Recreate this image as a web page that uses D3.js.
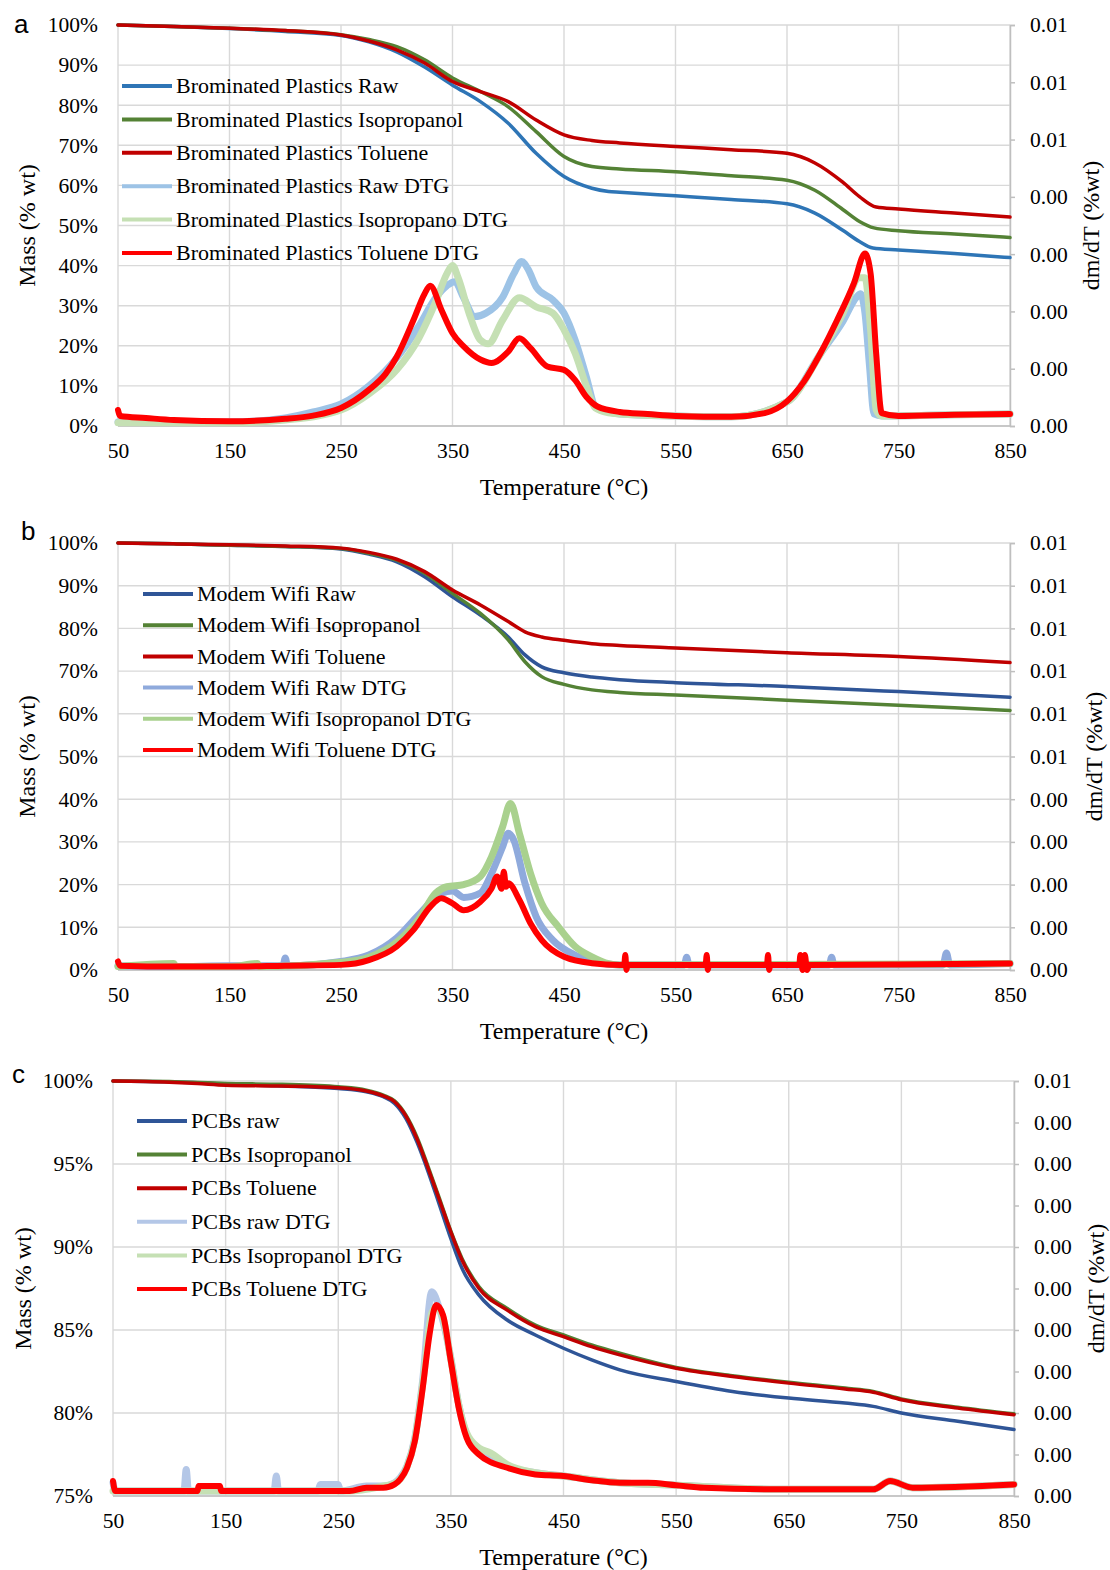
<!DOCTYPE html>
<html>
<head>
<meta charset="utf-8">
<script src="https://cdn.jsdelivr.net/npm/d3@7"></script>
<style>
  body { margin: 0; background: #fff; }
  svg { display: block; }
  text { font-family: "Liberation Serif", "Times New Roman", serif; fill: #000; }
</style>
</head>
<body>
<svg width="1110" height="1570"></svg>
<script>
// ---- data ----
// temperature ticks (°C)
const tempTicks = [50, 150, 250, 350, 450, 550, 650, 750, 850];

// DTG values are stored in units of 1e-4 (%wt/°C)
const DTG_UNIT = 1e-4;

// a) Brominated plastics : mass (%)
const aRaw = [[50,100],[100,99.6],[150,99.1],[200,98.4],[250,97.4],[275,95.8],[300,93.3],[325,89.5],[350,85],[375,80.9],[400,75.5],[425,68],[450,62.2],[475,59.3],[490,58.5],[500,58.3],[550,57.4],[600,56.5],[650,55.4],[675,53.1],[700,48.8],[715,46],[727,44.4],[750,43.9],[800,43],[850,42]];
const aIso = [[50,100],[100,99.6],[150,99.2],[200,98.6],[250,97.6],[275,96.4],[300,94.6],[325,91.3],[350,86.8],[375,83.4],[400,79.6],[425,73.4],[450,67.2],[475,64.7],[500,64.1],[550,63.4],[600,62.4],[650,61.3],[675,58.8],[700,54],[715,51],[728,49.4],[750,48.7],[800,47.9],[850,47]];
const aTol = [[50,100],[100,99.6],[150,99.2],[200,98.6],[250,97.5],[275,96],[300,93.8],[325,90.5],[350,85.9],[375,83.4],[400,80.9],[425,76.3],[450,72.6],[475,71.2],[500,70.6],[550,69.7],[600,68.9],[650,68],[675,65.6],[700,60.8],[715,57.2],[730,54.6],[750,54.1],[800,53.1],[850,52.1]];
// a) DTG
const aRawDTG = [[50,0.7],[100,0.7],[150,0.7],[200,1.4],[225,2.45],[250,3.85],[275,7],[300,11.9],[320,17.5],[335,22.4],[345,24.5],[352,25.2],[360,22.4],[370,19.1],[380,19.7],[395,22.5],[405,26.6],[412,28.7],[418,27.3],[425,24.3],[440,22],[450,19.7],[460,15],[470,8.6],[478,3.4],[490,2.45],[500,2.1],[550,1.75],[600,1.6],[650,4.2],[680,12.6],[700,18.2],[712,22.4],[716,23.1],[720,19.6],[724,10.5],[728,2.1],[735,1.75],[800,1.96],[850,2.1]];
const aIsoDTG = [[50,0.56],[150,0.56],[200,1.05],[250,2.8],[275,5.6],[300,9.8],[320,15.4],[335,21.7],[345,26.6],[350,28],[355,25.9],[365,19.6],[375,15],[382,14.35],[395,18.5],[410,22.4],[425,20.8],[440,19.7],[450,16.8],[460,12.7],[470,7],[478,3.15],[490,2.3],[500,2.1],[550,1.75],[600,1.6],[650,4.2],[680,12.6],[700,19.6],[715,25.9],[720,25.9],[725,16.8],[730,2.8],[735,1.75],[800,1.96],[850,2.1]];
const aTolDTG = [[50,2.8],[52,1.75],[75,1.4],[100,1.05],[150,0.84],[200,1.26],[225,1.82],[250,3.15],[275,6.3],[290,9.1],[300,12.1],[315,18.5],[325,23.1],[330,24.5],[340,20.3],[350,16.2],[360,13.9],[375,11.6],[385,11],[400,13],[410,15.3],[420,13.6],[435,10.4],[450,9.8],[460,8],[470,5.1],[480,3.4],[500,2.45],[525,2.1],[550,1.75],[600,1.6],[630,2.25],[650,4.3],[665,7.7],[680,12.7],[695,18.5],[710,24.9],[720,30.1],[725,26.6],[730,12.6],[735,2.25],[750,1.75],[800,1.96],[850,2.1]];

// b) Modem Wifi : mass (%)
const bRaw = [[50,100],[100,99.8],[150,99.5],[200,99.2],[250,98.6],[275,97.4],[300,95.6],[325,92.1],[350,87.4],[375,83.1],[400,78],[415,73.8],[430,71],[450,69.6],[475,68.6],[500,68],[550,67.3],[650,66.4],[750,65.2],[850,63.9]];
const bIso = [[50,100],[100,99.8],[150,99.5],[200,99.2],[250,98.7],[275,97.6],[300,96],[325,92.9],[350,88.2],[375,83.5],[400,77.3],[415,72.2],[430,68.7],[450,66.9],[475,65.6],[500,65],[550,64.4],[650,63.2],[750,62],[850,60.8]];
const bTol = [[50,100],[100,99.8],[150,99.6],[200,99.3],[250,98.8],[275,97.8],[300,96.2],[325,93.3],[350,89],[375,85.5],[400,81.6],[415,79.2],[430,78],[450,77.2],[475,76.4],[500,76],[550,75.4],[650,74.3],[750,73.4],[850,72]];
// b) DTG
const bRawDTG = [[50,1],[100,0.8],[150,1],[198,1],[200,2.8],[202,1],[250,2],[275,3.5],[300,7.5],[320,13],[340,18],[350,18.5],[360,17],[375,18],[385,22.6],[395,28.9],[400,32],[405,30.4],[415,20.3],[425,12.5],[440,7],[460,3.5],[480,1.8],[500,1.2],[558,1.2],[560,3],[562,1.2],[688,1.2],[690,3],[692,1.2],[790,1.2],[793,4],[796,1.2],[850,1.5]];
const bIsoDTG = [[50,0.8],[100,1.5],[102,0.8],[150,0.8],[175,1.5],[177,0.8],[250,1.8],[275,3],[300,6.5],[320,12],[335,18],[345,19.5],[360,20],[375,21.9],[385,26.5],[395,33.6],[402,39],[410,32],[420,22.6],[430,15.6],[445,10.1],[460,5.5],[475,3.1],[490,1.5],[500,1.2],[850,1.5]];
const bTolDTG = [[50,2],[52,1],[100,0.8],[150,0.8],[200,1],[250,1.2],[275,2.3],[300,5.5],[315,9.4],[330,14.8],[340,16.8],[350,15.6],[360,14],[375,16],[385,19.1],[390,21.9],[394,19],[396,23],[398,19.5],[400,20.3],[410,16.4],[420,10.9],[430,7],[450,3.1],[475,1.6],[500,1.2],[504,1.2],[505,3.5],[506,0],[507,1.2],[577,1.2],[578,3.5],[579,0],[580,1.2],[632,1.2],[633,3.5],[634,0],[635,1.2],[661,1.2],[662,3.5],[664,0],[666,3.5],[668,0],[670,1.2],[750,1.3],[850,1.5]];

// c) PCBs : mass (%)
const cRaw = [[50,100],[100,99.95],[125,99.9],[150,99.8],[200,99.7],[250,99.55],[275,99.35],[290,99.05],[300,98.65],[310,97.75],[320,96.3],[330,94.5],[340,92.5],[350,90.5],[360,88.7],[375,87.1],[400,85.6],[425,84.7],[450,83.9],[475,83.2],[500,82.6],[550,81.9],[600,81.3],[650,80.9],[700,80.6],[725,80.4],[750,80],[800,79.5],[850,79]];
const cIso = [[50,100],[100,99.97],[150,99.85],[200,99.8],[250,99.65],[275,99.45],[290,99.15],[300,98.8],[310,97.95],[320,96.6],[330,94.8],[340,92.9],[350,90.95],[360,89.3],[375,87.6],[400,86.3],[425,85.3],[450,84.7],[475,84.1],[500,83.6],[550,82.75],[600,82.25],[650,81.85],[700,81.5],[725,81.3],[750,80.85],[800,80.35],[850,79.95]];
const cTol = [[50,100],[100,99.93],[125,99.85],[150,99.75],[200,99.7],[250,99.6],[275,99.4],[290,99.1],[300,98.75],[310,97.9],[320,96.5],[330,94.7],[340,92.8],[350,90.9],[360,89.2],[375,87.5],[400,86.2],[425,85.2],[450,84.6],[475,84],[500,83.5],[550,82.7],[600,82.2],[650,81.8],[700,81.45],[725,81.25],[750,80.8],[800,80.3],[850,79.9]];
// c) DTG
const cRawDTG = [[50,1.6],[52,0.6],[113,0.6],[115,3.2],[117,0.6],[193,0.6],[195,2.4],[197,0.6],[232,0.6],[234,1.4],[250,1.4],[252,0.6],[275,1.2],[290,1.2],[300,1.6],[305,2.2],[311,3.6],[318,7],[325,14],[333,24.6],[340,22.5],[350,16.6],[357,11],[364,7.4],[375,5.6],[385,4.8],[400,3.6],[425,2.8],[450,2.4],[500,1.6],[550,1.3],[650,0.8],[725,0.8],[740,1.8],[760,1],[850,1.4]];
const cIsoDTG = [[50,0.6],[260,0.6],[290,1.2],[300,1.5],[311,3.5],[318,6.8],[325,13.5],[333,22],[337,22.8],[343,21.5],[350,16.4],[357,11],[364,7.6],[375,5.8],[385,5.2],[400,3.8],[425,2.8],[450,2.4],[500,1.6],[550,1.3],[650,0.8],[725,0.8],[740,1.8],[760,1],[850,1.4]];
const cTolDTG = [[50,1.8],[52,0.6],[125,0.6],[126,1.2],[145,1.2],[146,0.6],[260,0.6],[275,1],[290,1],[300,1.4],[305,2],[311,3.4],[318,6.6],[325,13],[331,19.4],[337,23],[343,21.8],[350,16.2],[357,10.6],[364,7],[375,5],[400,3.4],[425,2.6],[450,2.4],[475,1.9],[500,1.6],[525,1.6],[550,1.3],[575,1],[650,0.8],[725,0.8],[740,1.8],[760,1],[850,1.4]];

// legend labels
const aNames = ["Brominated Plastics Raw", "Brominated Plastics Isopropanol", "Brominated Plastics Toluene", "Brominated Plastics Raw DTG", "Brominated Plastics Isopropano DTG", "Brominated Plastics Toluene DTG"];
const bNames = ["Modem Wifi Raw", "Modem Wifi Isopropanol", "Modem Wifi Toluene", "Modem Wifi Raw DTG", "Modem Wifi Isopropanol DTG", "Modem Wifi Toluene DTG"];
const cNames = ["PCBs raw", "PCBs Isopropanol", "PCBs Toluene", "PCBs raw DTG", "PCBs Isopropanol DTG", "PCBs Toluene DTG"];

// mass axis ticks (%)
const aMassTicks = d3.range(0, 101, 10);
const bMassTicks = d3.range(0, 101, 10);
const cMassTicks = [75, 80, 85, 90, 95, 100];

// right (dm/dT) axis: max and step
const aRight = [0.007, 0.001];
const bRight = [0.010, 0.001];
const cRight = [0.005, 0.0005];

// ---- layout ----
const panels = [
  { letter: "a", lx: 14, ly: 33, x0: 118, x1: 1010, y0: 25, y1: 426, massMin: 0, massTicks: aMassTicks, right: aRight,
    series: [aRaw, aIso, aTol, aRawDTG, aIsoDTG, aTolDTG], names: aNames,
    colors: ["#2e75b6", "#548235", "#c00000", "#9dc3e6", "#c5e0b4", "#ff0000"],
    legX: 122, legY: 86, legStep: 33.4, massTitleX: 27, rightTitleX: 1091 },
  { letter: "b", lx: 21, ly: 540, x0: 118, x1: 1010, y0: 543, y1: 970, massMin: 0, massTicks: bMassTicks, right: bRight,
    series: [bRaw, bIso, bTol, bRawDTG, bIsoDTG, bTolDTG], names: bNames,
    colors: ["#2f5597", "#548235", "#c00000", "#8faadc", "#a9d18e", "#ff0000"],
    legX: 143, legY: 594, legStep: 31.2, massTitleX: 27, rightTitleX: 1094 },
  { letter: "c", lx: 12, ly: 1083, x0: 113, x1: 1014, y0: 1081, y1: 1496, massMin: 75, massTicks: cMassTicks, right: cRight,
    series: [cRaw, cIso, cTol, cRawDTG, cIsoDTG, cTolDTG], names: cNames,
    colors: ["#2f5597", "#548235", "#c00000", "#b4c7e7", "#c5e0b4", "#ff0000"],
    legX: 137, legY: 1121, legStep: 33.6, massTitleX: 23, rightTitleX: 1096 }
];

const svg = d3.select("svg");
const gridColor = "#d9d9d9";
const axisColor = "#bfbfbf";
const serif = "'Liberation Serif', 'Times New Roman', serif";

// Excel style rounding: 0.005 -> 0.01
const fmtRight = v => (Math.round(v * 100 + 1e-9) / 100).toFixed(2);

function styleAxis(sel) {
  sel.attr("font-family", serif).attr("font-size", 21.5);
  sel.selectAll("text").style("font-family", serif).style("font-size", "21.5px").attr("fill", "#000");
}

function drawPanel(p) {
  const g = svg.append("g");
  const x = d3.scaleLinear().domain([50, 850]).range([p.x0, p.x1]);
  const y = d3.scaleLinear().domain([p.massMin, 100]).range([p.y1, p.y0]);
  const yR = d3.scaleLinear().domain([0, p.right[0]]).range([p.y1, p.y0]);
  const rTicks = d3.range(0, Math.round(p.right[0] / p.right[1]) + 1).map(i => i * p.right[1]);

  // grid
  g.append("g").selectAll("line").data(p.massTicks).enter().append("line")
    .attr("x1", p.x0).attr("x2", p.x1)
    .attr("y1", d => y(d)).attr("y2", d => y(d))
    .attr("stroke", gridColor).attr("stroke-width", 1.4);
  g.append("g").selectAll("line").data(tempTicks).enter().append("line")
    .attr("x1", d => x(d)).attr("x2", d => x(d))
    .attr("y1", p.y0).attr("y2", p.y1)
    .attr("stroke", gridColor).attr("stroke-width", 1.4);

  // bottom axis line
  g.append("line").attr("x1", p.x0).attr("x2", p.x1).attr("y1", p.y1).attr("y2", p.y1)
    .attr("stroke", axisColor).attr("stroke-width", 1.5);

  // left tick labels
  const left = g.append("g").attr("transform", `translate(${p.x0},0)`)
    .call(d3.axisLeft(y).tickValues(p.massTicks).tickFormat(d => d + "%").tickSize(0).tickPadding(20));
  left.select(".domain").remove();
  styleAxis(left);

  // bottom tick labels
  const bottom = g.append("g").attr("transform", `translate(0,${p.y1})`)
    .call(d3.axisBottom(x).tickValues(tempTicks).tickFormat(d3.format("d")).tickSize(0).tickPadding(17));
  bottom.select(".domain").remove();
  styleAxis(bottom);

  // right axis
  const right = g.append("g").attr("transform", `translate(${p.x1},0)`)
    .call(d3.axisRight(yR).tickValues(rTicks).tickFormat(fmtRight).tickSize(5).tickPadding(15));
  right.select(".domain").attr("stroke", axisColor).attr("stroke-width", 1.5);
  right.selectAll(".tick line").attr("stroke", axisColor).attr("stroke-width", 1.5);
  styleAxis(right);

  // axis titles
  g.append("text").attr("x", (p.x0 + p.x1) / 2).attr("y", p.y1 + 61).attr("dy", "0.35em")
    .attr("text-anchor", "middle").style("font-size", "24px").text("Temperature (°C)");
  g.append("text").attr("transform", `translate(${p.massTitleX},${(p.y0 + p.y1) / 2}) rotate(-90)`)
    .attr("dy", "0.35em").attr("text-anchor", "middle").style("font-size", "24px").text("Mass (% wt)");
  g.append("text").attr("transform", `translate(${p.rightTitleX},${(p.y0 + p.y1) / 2}) rotate(-90)`)
    .attr("dy", "0.35em").attr("text-anchor", "middle").style("font-size", "24px").text("dm/dT (%wt)");

  // panel letter
  g.append("text").attr("x", p.lx).attr("y", p.ly)
    .style("font-family", "'Liberation Sans', Arial, sans-serif").style("font-size", "26px").text(p.letter);

  // curves
  const massLine = d3.line().x(d => x(d[0])).y(d => y(d[1])).curve(d3.curveMonotoneX);
  const dtgLine = d3.line().x(d => x(d[0])).y(d => yR(d[1] * DTG_UNIT)).curve(d3.curveMonotoneX);
  const widths = [3.5, 3.5, 3.5, 7, 7, 6];

  p.series.forEach((s, i) => {
    g.append("path").datum(s)
      .attr("d", i < 3 ? massLine : dtgLine)
      .attr("fill", "none")
      .attr("stroke", p.colors[i])
      .attr("stroke-width", widths[i])
      .attr("stroke-linejoin", "round")
      .attr("stroke-linecap", "round");
  });

  // legend
  const leg = g.append("g").selectAll("g").data(p.names).enter().append("g")
    .attr("transform", (d, i) => `translate(${p.legX},${p.legY + i * p.legStep})`);
  leg.append("line").attr("x1", 0).attr("x2", 50).attr("y1", 0).attr("y2", 0)
    .attr("stroke", (d, i) => p.colors[i]).attr("stroke-width", 4);
  leg.append("text").attr("x", 54).attr("dy", "0.33em").style("font-size", "22px").text(d => d);
}

panels.forEach(drawPanel);
</script>
</body>
</html>
